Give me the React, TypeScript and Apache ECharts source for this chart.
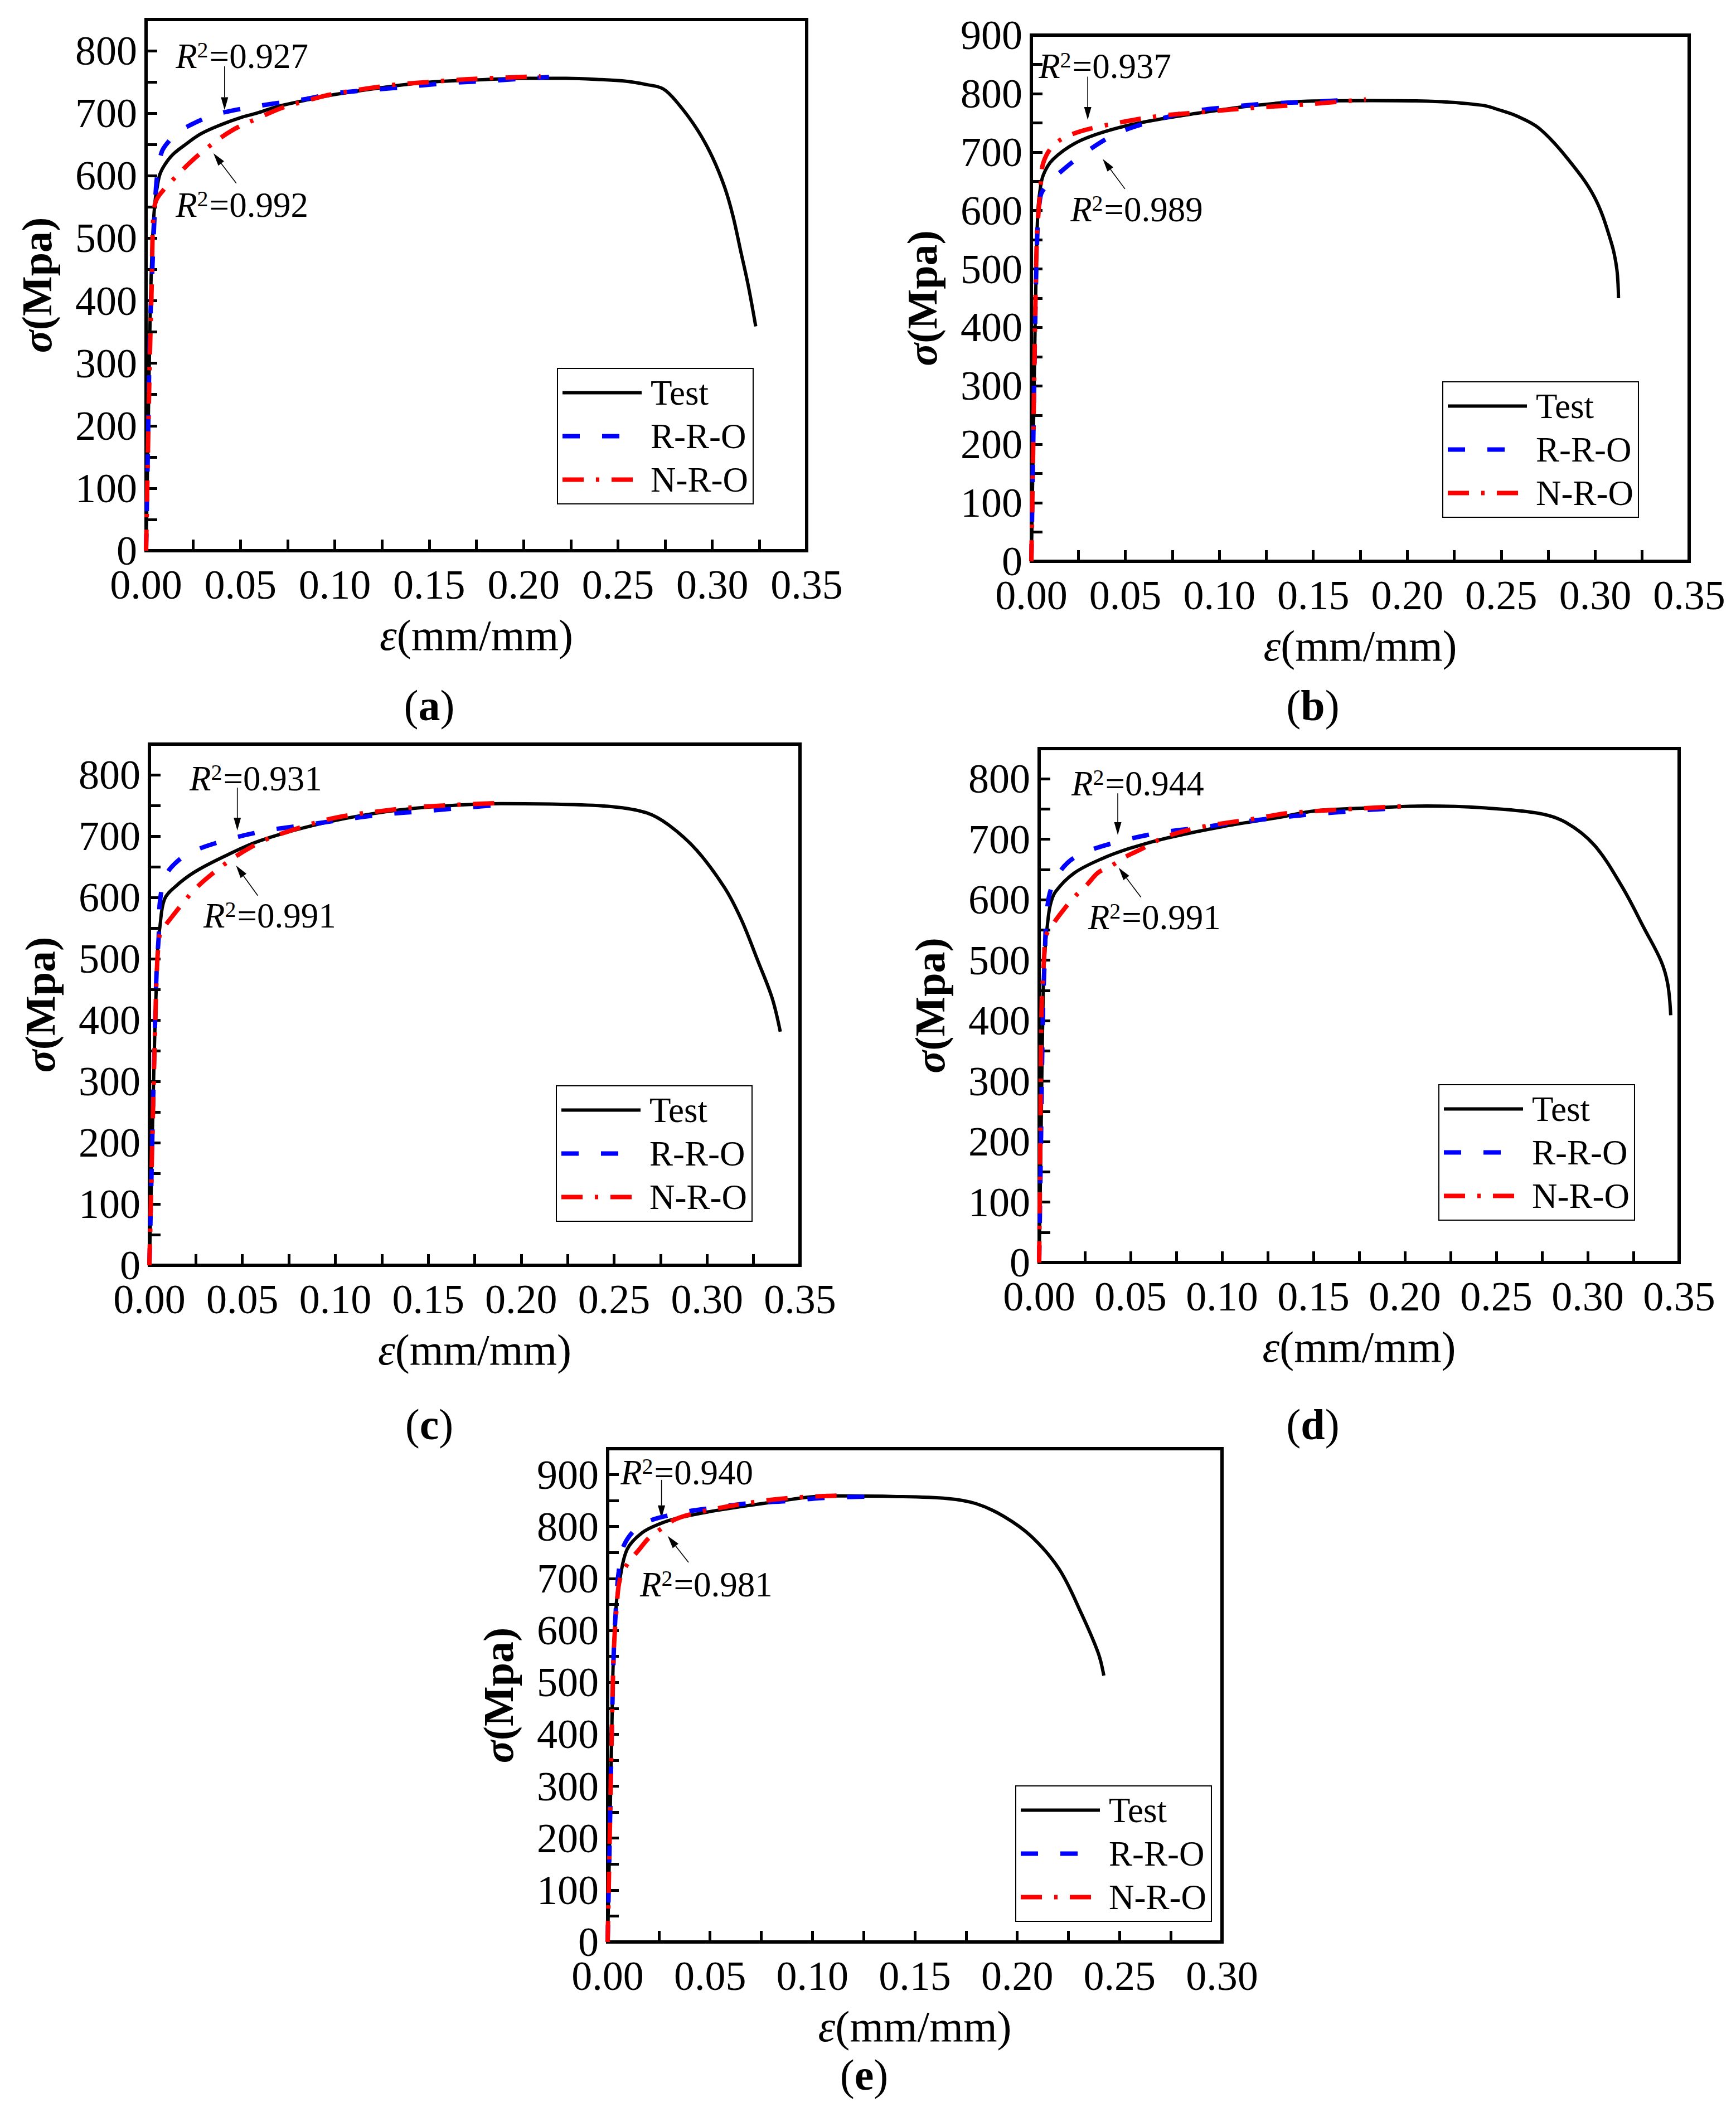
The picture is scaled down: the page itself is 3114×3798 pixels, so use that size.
import { useEffect, useRef } from 'react';
import * as echarts from 'echarts';

const FONT = "'Liberation Serif', 'Times New Roman', serif";

// strain (mm/mm), stress (MPa)
const testA = [[0, 0], [0.001, 175], [0.002, 350], [0.0028, 450], [0.0038, 520], [0.0048, 560], [0.0058, 580], [0.0073, 602], [0.01, 618], [0.0142, 634], [0.02, 648], [0.029, 667], [0.04, 682], [0.05, 693], [0.0585, 700], [0.07, 711], [0.088, 723], [0.1, 730], [0.12, 739], [0.147, 749], [0.18, 754], [0.2, 756], [0.22, 756], [0.24, 754], [0.255, 751], [0.265, 746], [0.274, 739], [0.282, 715], [0.292, 674], [0.3, 630], [0.3066, 581], [0.311, 535], [0.315, 480], [0.319, 425], [0.323, 359]];
const rroA = [[0, 0], [0.001, 170], [0.002, 340], [0.0033, 450], [0.0047, 548], [0.0058, 598], [0.0083, 638], [0.012, 655], [0.017, 670], [0.024, 682], [0.033, 694], [0.0437, 703], [0.0644, 714], [0.085, 723], [0.1, 732], [0.13, 740], [0.159, 748], [0.188, 753], [0.2135, 758]];
const nroA = [[0, 0], [0.001, 160], [0.002, 310], [0.003, 426], [0.0038, 531], [0.0053, 560], [0.01, 580], [0.015, 596], [0.0236, 622], [0.0334, 647], [0.0458, 673], [0.06, 693], [0.0724, 709], [0.085, 720], [0.098, 730], [0.13, 745], [0.15, 750], [0.174, 755], [0.209, 759]];

const testB = [[0, 0], [0.001, 200], [0.002, 400], [0.0028, 530], [0.0035, 600], [0.0045, 632], [0.0064, 661], [0.0114, 687], [0.0232, 715], [0.0381, 734], [0.0578, 750], [0.0875, 766], [0.117, 779], [0.147, 787], [0.181, 788], [0.211, 787], [0.24, 780], [0.249, 772], [0.258, 762], [0.27, 741], [0.285, 690], [0.2996, 623], [0.3085, 546], [0.3115, 500], [0.3124, 450]];
const rroB = [[0, 0], [0.001, 200], [0.002, 400], [0.0028, 520], [0.0036, 590], [0.0044, 614], [0.0054, 630], [0.009, 646], [0.0148, 664], [0.0282, 698], [0.045, 731], [0.0647, 753], [0.0845, 769], [0.105, 777], [0.126, 783], [0.151, 786], [0.172, 790]];
const nroB = [[0, 0], [0.001, 200], [0.002, 410], [0.003, 560], [0.0039, 600], [0.005, 645], [0.0064, 682], [0.0119, 712], [0.0213, 730], [0.037, 744], [0.0667, 761], [0.0934, 769], [0.119, 776], [0.144, 781], [0.178, 790]];

const testC = [[0, 0], [0.001, 130], [0.002, 270], [0.003, 390], [0.0036, 445], [0.0045, 518], [0.0056, 551], [0.0081, 597], [0.0141, 618], [0.0241, 641], [0.039, 665], [0.059, 692], [0.089, 718], [0.119, 736], [0.149, 747], [0.189, 753], [0.219, 752], [0.249, 748], [0.2674, 738], [0.2794, 718], [0.2944, 677], [0.3094, 616], [0.3184, 564], [0.3274, 496], [0.335, 436], [0.3394, 381]];
const rroC = [[0, 0], [0.001, 130], [0.002, 270], [0.003, 390], [0.004, 490], [0.005, 536], [0.0056, 591], [0.0086, 634], [0.014, 656], [0.0225, 674], [0.043, 695], [0.063, 709], [0.084, 718], [0.1046, 727], [0.125, 735], [0.1445, 740], [0.192, 752]];
const nroC = [[0, 0], [0.001, 130], [0.002, 260], [0.003, 380], [0.004, 480], [0.005, 528], [0.006, 542], [0.011, 564], [0.0241, 612], [0.034, 639], [0.047, 668], [0.061, 692], [0.073, 706], [0.0985, 729], [0.125, 741], [0.147, 748], [0.189, 754]];

const testD = [[0, 0], [0.001, 200], [0.0023, 463], [0.0034, 524], [0.0044, 555], [0.006, 590], [0.0089, 613], [0.0191, 644], [0.0344, 668], [0.0496, 685], [0.0699, 702], [0.1004, 721], [0.1309, 736], [0.151, 747], [0.182, 752], [0.212, 755], [0.243, 752], [0.273, 743], [0.288, 728], [0.3037, 690], [0.3189, 621], [0.331, 552], [0.3402, 498], [0.3438, 460], [0.3454, 409]];
const rroD = [[0, 0], [0.001, 200], [0.002, 400], [0.003, 500], [0.0044, 585], [0.0074, 625], [0.0155, 661], [0.0272, 681], [0.046, 698], [0.0664, 711], [0.0872, 719], [0.1085, 728], [0.1289, 735], [0.148, 741], [0.182, 749], [0.2, 752]];
const nroD = [[0, 0], [0.0007, 220], [0.0013, 416], [0.0028, 509], [0.0035, 538], [0.0079, 561], [0.013, 582], [0.0191, 604], [0.0262, 625], [0.0323, 645], [0.0394, 656], [0.0466, 670], [0.0547, 682], [0.07, 705], [0.09, 721], [0.1157, 733], [0.139, 744], [0.203, 755]];

const testE = [[0, 0], [0.001, 200], [0.002, 400], [0.0027, 537], [0.0036, 609], [0.0045, 663], [0.0059, 698], [0.0095, 756], [0.0168, 788], [0.0259, 806], [0.0349, 817], [0.0531, 831], [0.0803, 847], [0.1075, 859], [0.139, 858], [0.166, 854], [0.18, 844], [0.1933, 820], [0.2069, 781], [0.2205, 718], [0.2314, 632], [0.2396, 556], [0.2423, 513]];
const rroE = [[0, 0], [0.001, 200], [0.002, 400], [0.003, 560], [0.004, 640], [0.0054, 713], [0.0082, 766], [0.0168, 804], [0.0336, 825], [0.0513, 836], [0.0694, 845], [0.0871, 849], [0.1048, 855], [0.128, 858]];
const nroE = [[0, 0], [0.001, 200], [0.002, 400], [0.003, 560], [0.0045, 650], [0.0059, 697], [0.0095, 727], [0.015, 754], [0.0204, 779], [0.0259, 795], [0.0331, 814], [0.044, 827], [0.0649, 843], [0.0858, 854], [0.1066, 859], [0.117, 860]];

const panelNames = ['a', 'b', 'c', 'd', 'e'];
const xMaxes = [0.35, 0.35, 0.35, 0.35, 0.3];
const yMaxes = [850, 900, 850, 850, 950];
const seriesNames = ['Test', 'R-R-O', 'N-R-O'];
const upperR2 = ['0.927', '0.937', '0.931', '0.944', '0.940'];
const lowerR2 = ['0.992', '0.989', '0.991', '0.991', '0.981'];
// note anchors in data units: [textX, textY, fromX, fromY, toX, toY]
const upperNotes = [
  [0.0157, 791, 0.0416, 775, 0.0416, 705],
  [0.0039, 847, 0.03, 829, 0.03, 755],
  [0.0216, 794, 0.0473, 779, 0.0473, 709],
  [0.0177, 792, 0.043, 776, 0.043, 707],
  [0.0063, 904, 0.0263, 890, 0.0263, 816],
];
const lowerNotes = [
  [0.0157, 553, 0.0478, 588, 0.0357, 636],
  [0.0208, 602, 0.0498, 637, 0.038, 688],
  [0.0291, 570, 0.0583, 603, 0.0466, 652],
  [0.0268, 571, 0.0557, 604, 0.0435, 653],
  [0.0158, 688, 0.0395, 731, 0.0293, 782],
];

const panelData = [
  [testA, rroA, nroA],
  [testB, rroB, nroB],
  [testC, rroC, nroC],
  [testD, rroD, nroD],
  [testE, rroE, nroE],
];

// layout, px
const grids = [
  { left: 262, top: 35, width: 1185, height: 953 },
  { left: 1850, top: 63, width: 1180, height: 944 },
  { left: 268, top: 1335, width: 1167, height: 935 },
  { left: 1864, top: 1343, width: 1148, height: 922 },
  { left: 1090, top: 2599, width: 1102, height: 885 },
];
const legendPos = [[1000, 661], [2588, 685], [998, 1948], [2581, 1946], [1822, 3204]];
const captionPos = [[770, 1265], [2355, 1265], [770, 2555], [2355, 2555], [1550, 3722]];

const lineStyles = [
  { color: '#000000', width: 6, type: 'solid' as any },
  { color: '#0000ff', width: 8, type: [31, 40] as any },
  { color: '#ff0000', width: 8, type: [38, 22, 6, 22] as any },
];

export default function App() {
  const ref = useRef<HTMLDivElement>(null);

  useEffect(() => {
    document.body.style.margin = '0';
    if (!ref.current) return;
    const chart = echarts.init(ref.current, null, { renderer: 'svg' });

    const tick = { inside: true, length: 20, lineStyle: { color: '#000', width: 5 } };
    const minor = { show: true, splitNumber: 2, length: 20, lineStyle: { color: '#000', width: 5 } };

    const xAxis = grids.map((_, i) => ({
      type: 'value',
      gridIndex: i,
      min: 0,
      max: xMaxes[i],
      interval: 0.05,
      name: '{i|ε}(mm/mm)',
      nameLocation: 'middle',
      nameGap: 112,
      nameTextStyle: {
        fontFamily: FONT, fontSize: 78, color: '#000',
        rich: { i: { fontFamily: FONT, fontSize: 78, fontStyle: 'italic', color: '#000' } },
      },
      axisLine: { lineStyle: { color: '#000', width: 6 } },
      axisTick: tick,
      minorTick: minor,
      splitLine: { show: false },
      axisLabel: {
        margin: 34, fontFamily: FONT, fontSize: 74, lineHeight: 54, color: '#000',
        formatter: (v: number) => v.toFixed(2),
      },
    }));

    const yAxis = grids.map((_, i) => ({
      type: 'value',
      gridIndex: i,
      min: 0,
      max: yMaxes[i],
      interval: 100,
      name: '{i|σ}(Mpa)',
      nameLocation: 'middle',
      nameGap: 158,
      nameTextStyle: {
        fontFamily: FONT, fontSize: 76, fontWeight: 'bold', color: '#000',
        rich: { i: { fontFamily: FONT, fontSize: 76, fontWeight: 'bold', fontStyle: 'italic', color: '#000' } },
      },
      axisLine: { lineStyle: { color: '#000', width: 6 } },
      axisTick: tick,
      minorTick: minor,
      splitLine: { show: false },
      axisLabel: {
        margin: 16, fontFamily: FONT, fontSize: 74, lineHeight: 54, color: '#000',
        showMaxLabel: yMaxes[i] % 100 === 0,
      },
    }));

    const series: any[] = [];
    panelData.forEach((curves, i) => {
      curves.forEach((data, k) => {
        series.push({
          type: 'line',
          name: seriesNames[k],
          xAxisIndex: i,
          yAxisIndex: i,
          data,
          symbol: 'none',
          smooth: 0.35,
          lineStyle: lineStyles[k],
          itemStyle: { color: lineStyles[k].color },
          z: 2 + k,
        });
      });
    });

    const legend = legendPos.map(([left, top]) => ({
      left, top,
      orient: 'vertical',
      data: seriesNames,
      borderColor: '#000',
      borderWidth: 2,
      backgroundColor: '#fff',
      padding: [12, 9, 12, 5],
      itemWidth: 142,
      itemHeight: 20,
      itemGap: 15,
      selectedMode: false,
      itemStyle: { opacity: 0 },
      lineStyle: { width: 'inherit' },
      textStyle: { fontFamily: FONT, fontSize: 63, color: '#000', lineHeight: 63, padding: [0, 0, 0, 11] },
    }));

    const captions = captionPos.map(([x, y], i) => ({
      type: 'text',
      x, y,
      style: {
        text: `({b|${panelNames[i]}})`,
        fontFamily: FONT, fontSize: 78, fill: '#000',
        align: 'center', verticalAlign: 'middle',
        rich: { b: { fontFamily: FONT, fontSize: 78, fontWeight: 'bold', fill: '#000' } },
      },
    }));

    chart.setOption({
      animation: false,
      backgroundColor: '#fff',
      grid: grids.map((g) => ({ ...g, show: true, borderColor: '#000', borderWidth: 6, backgroundColor: 'transparent' })),
      xAxis,
      yAxis,
      legend,
      series,
      graphic: captions,
    });

    // R² notes with arrows, placed through the axes
    const notes: any[] = [];
    const addNote = (i: number, note: number[], value: string) => {
      const [tx, ty, fx, fy, ex, ey] = note;
      const t = chart.convertToPixel({ gridIndex: i }, [tx, ty]) as number[];
      const f = chart.convertToPixel({ gridIndex: i }, [fx, fy]) as number[];
      const e = chart.convertToPixel({ gridIndex: i }, [ex, ey]) as number[];
      notes.push({
        type: 'text',
        x: t[0], y: t[1],
        style: {
          text: `{i|R}{s|2}=${value}`,
          fontFamily: FONT, fontSize: 63, fill: '#000',
          align: 'left', verticalAlign: 'middle',
          rich: {
            i: { fontFamily: FONT, fontSize: 63, fontStyle: 'italic', fill: '#000' },
            s: { fontFamily: FONT, fontSize: 40, fill: '#000', verticalAlign: 'top', padding: [0, 2, 0, 0] },
          },
        },
      });
      const dx = e[0] - f[0];
      const dy = e[1] - f[1];
      const len = Math.hypot(dx, dy) || 1;
      const ux = dx / len;
      const uy = dy / len;
      const head = 23;
      const half = 6.5;
      const bx = e[0] - ux * head;
      const by = e[1] - uy * head;
      notes.push({
        type: 'line',
        shape: { x1: f[0], y1: f[1], x2: bx, y2: by },
        style: { stroke: '#000', lineWidth: 1.6 },
      });
      notes.push({
        type: 'polygon',
        shape: { points: [[e[0], e[1]], [bx - uy * half, by + ux * half], [bx + uy * half, by - ux * half]] },
        style: { fill: '#000' },
      });
    };
    for (let i = 0; i < grids.length; i++) {
      addNote(i, upperNotes[i], upperR2[i]);
      addNote(i, lowerNotes[i], lowerR2[i]);
    }
    chart.setOption({ graphic: [...captions, ...notes] });

    return () => chart.dispose();
  }, []);

  return <div ref={ref} style={{ width: 3114, height: 3798 }} />;
}
